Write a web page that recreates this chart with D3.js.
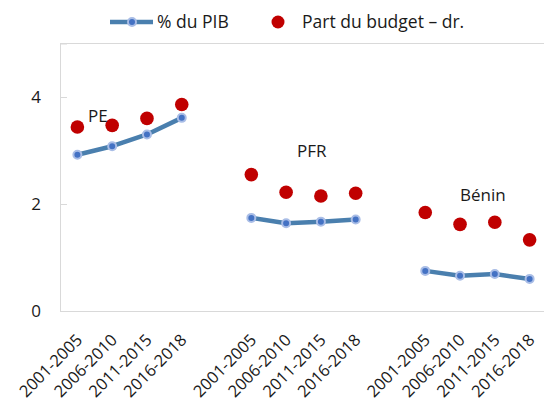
<!DOCTYPE html>
<html>
<head>
<meta charset="utf-8">
<script src="https://cdn.jsdelivr.net/npm/d3@7"></script>
<style>
  body { margin: 0; background: #fff; }
  svg { display: block; font-family: "Open Sans", "Noto Sans", sans-serif; }
</style>
</head>
<body>
<svg id="chart" width="544" height="405"></svg>
<script>
// ---- data ----
const groups = ["PE", "PFR", "Bénin"];
const periods = ["2001-2005", "2006-2010", "2011-2015", "2016-2018"];
const pibPE = [2.92, 3.08, 3.30, 3.61];
const pibPFR = [1.74, 1.64, 1.67, 1.71];
const pibBenin = [0.75, 0.66, 0.69, 0.60];
// "Part du budget – dr." (secondary axis, hidden; same scale)
const budPE = [3.44, 3.47, 3.60, 3.86];
const budPFR = [2.55, 2.22, 2.15, 2.20];
const budBenin = [1.84, 1.62, 1.66, 1.33];
const yTicks = [0, 2, 4];
const yMax = 5;

const pib = [pibPE, pibPFR, pibBenin];
const bud = [budPE, budPFR, budBenin];

// ---- layout ----
const svg = d3.select("#chart");
const mLeft = 60, mRight = 547, mTop = 43.5, mBottom = 311;
const fs = 17.5;

// category slots: 4 + gap + 4 + gap + 4
const slots = [];
groups.forEach((g, gi) => {
  periods.forEach(p => slots.push(g + "|" + p));
  if (gi < groups.length - 1) slots.push("gap" + gi);
});
const x = d3.scaleBand().domain(slots).range([mLeft, mRight]).padding(0);
const cx = k => x(k) + x.bandwidth() / 2;
const y = d3.scaleLinear().domain([0, yMax]).range([mBottom, mTop]);
const y2 = d3.scaleLinear().domain([0, yMax]).range([mBottom, mTop]);

const gray = "#d9d9d9";
svg.append("line").attr("x1", mLeft).attr("x2", 544).attr("y1", mTop).attr("y2", mTop).attr("stroke", gray).attr("stroke-width", 1);

// y axis
const yAxis = d3.axisLeft(y).tickValues(yTicks).tickSize(-7).tickPadding(19).tickFormat(d3.format("d"));
const ya = svg.append("g").attr("transform", `translate(${mLeft},0)`).call(yAxis);
ya.select(".domain").attr("stroke", gray);
ya.selectAll(".tick line").attr("stroke", gray);
ya.selectAll(".tick text").attr("font-size", 17).attr("fill", "#1a1a1a").attr("font-family", "Open Sans, sans-serif");

// x axis
const xa = svg.append("g").attr("transform", `translate(0,${mBottom})`)
  .call(d3.axisBottom(x).tickSize(0).tickFormat(() => ""));
xa.select(".domain").attr("stroke", gray).attr("d", `M${mLeft},0.5H544`);
xa.selectAll(".tick text").remove();

// rotated category labels
slots.forEach(k => {
  if (k.startsWith("gap")) return;
  const p = k.split("|")[1];
  svg.append("text")
    .attr("transform", `translate(${cx(k) + 6},${mBottom + 30}) rotate(-45)`)
    .attr("text-anchor", "end")
    .attr("font-size", 16.5)
    .attr("fill", "#1a1a1a")
    .text(p);
});

// lines and markers
const line = d3.line().x(d => cx(d.k)).y(d => y(d.v));
groups.forEach((g, gi) => {
  const pts = periods.map((p, i) => ({ k: g + "|" + p, v: pib[gi][i] }));
  svg.append("path").datum(pts).attr("d", line)
    .attr("fill", "none").attr("stroke", "#4a7fae").attr("stroke-width", 4.5)
    .attr("stroke-linejoin", "round");
  svg.selectAll(null).data(pts).enter().append("circle")
    .attr("cx", d => cx(d.k)).attr("cy", d => y(d.v)).attr("r", 4)
    .attr("fill", "#4472c4").attr("stroke", "#a9bde6").attr("stroke-width", 2);
  const bpts = periods.map((p, i) => ({ k: g + "|" + p, v: bud[gi][i] }));
  svg.selectAll(null).data(bpts).enter().append("circle")
    .attr("cx", d => cx(d.k)).attr("cy", d => y2(d.v)).attr("r", 6.8)
    .attr("fill", "#c00000");
});

// group labels
const glabels = [
  { t: "PE", x: 88, y: 122 },
  { t: "PFR", x: 297, y: 157 },
  { t: "Bénin", x: 460, y: 201 }
];
svg.selectAll(null).data(glabels).enter().append("text")
  .attr("x", d => d.x).attr("y", d => d.y)
  .attr("font-size", 17).attr("fill", "#1a1a1a").text(d => d.t);

// legend
const lg = svg.append("g");
lg.append("line").attr("x1", 110).attr("x2", 153).attr("y1", 22).attr("y2", 22)
  .attr("stroke", "#4a7fae").attr("stroke-width", 4.5);
lg.append("circle").attr("cx", 132).attr("cy", 22).attr("r", 4)
  .attr("fill", "#4472c4").attr("stroke", "#a9bde6").attr("stroke-width", 2);
lg.append("text").attr("x", 157).attr("y", 28).attr("font-size", fs).attr("fill", "#1a1a1a").text("% du PIB");
lg.append("circle").attr("cx", 278).attr("cy", 22).attr("r", 6.5).attr("fill", "#c00000");
lg.append("text").attr("x", 302).attr("y", 28).attr("font-size", fs).attr("fill", "#1a1a1a").text("Part du budget – dr.");
</script>
</body>
</html>
